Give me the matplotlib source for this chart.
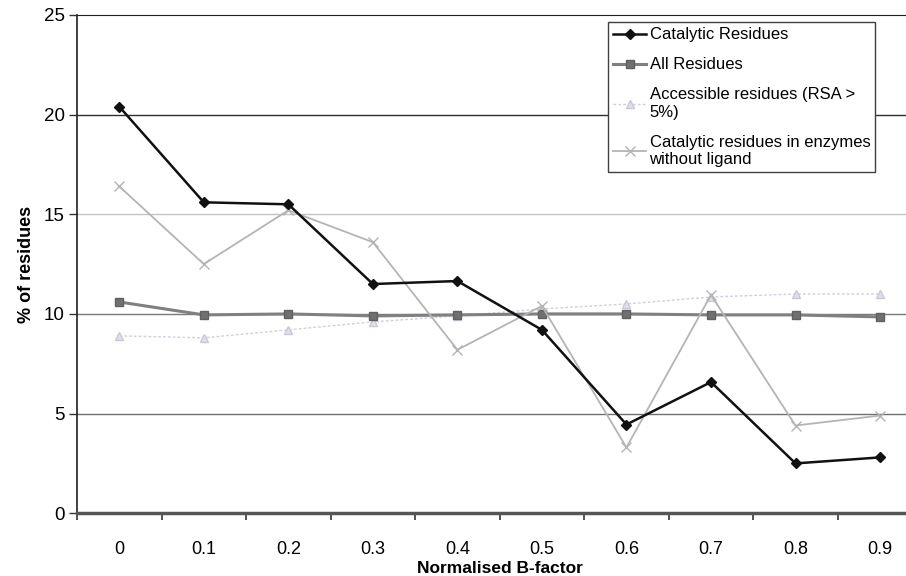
import matplotlib.pyplot as plt

# data
b_factor = ["0", "0.1", "0.2", "0.3", "0.4", "0.5", "0.6", "0.7", "0.8", "0.9"]
catalytic = [20.4, 15.6, 15.5, 11.5, 11.65, 9.2, 4.45, 6.58, 2.5, 2.8]
all_residues = [10.6, 9.95, 10.0, 9.9, 9.95, 10.0, 10.0, 9.95, 9.95, 9.85]
accessible = [8.9, 8.8, 9.2, 9.6, 9.9, 10.25, 10.5, 10.85, 11.0, 11.0]
no_ligand = [16.4, 12.5, 15.2, 13.6, 8.2, 10.4, 3.3, 10.95, 4.4, 4.9]

plt.rcParams["font.family"] = ["Liberation Sans", "DejaVu Sans"]

fig = plt.figure(figsize=(9.06, 5.76), dpi=100)
ax = fig.add_axes([0.085, 0.109, 0.933, 0.865])

x = list(range(len(b_factor)))

# gridlines (shades vary as in the reference)
for yv, col in [(5, "#707070"), (10, "#7a7a7a"), (15, "#c4c4c4"), (20, "#303030")]:
    ax.axhline(yv, color=col, lw=1.0, zorder=1)

ax.plot(x, all_residues, color="#808080", lw=2.2, marker="s", ms=5.5,
        markerfacecolor="#707070", markeredgecolor="#606060",
        label="All Residues", zorder=3)
ax.plot(x, accessible, color="#cfcfe0", lw=1.0, ls=(0, (2, 1.5)), marker="^", ms=5.5,
        markerfacecolor="#e0e0e8", markeredgecolor="#c8c8d8",
        label="Accessible residues (RSA >\n5%)", zorder=2)
ax.plot(x, no_ligand, color="#b4b4b4", lw=1.3, marker="x", ms=6.5, mew=1.0,
        label="Catalytic residues in enzymes\nwithout ligand", zorder=3)
ax.plot(x, catalytic, color="#111111", lw=1.8, marker="D", ms=5,
        label="Catalytic Residues", zorder=4)

ax.set_xlim(-0.5, len(b_factor) - 0.5)
ax.set_ylim(0, 25)
ax.set_yticks([0, 5, 10, 15, 20, 25])
ax.set_xticks(x)
ax.set_xticklabels(b_factor)
ax.set_xticks([i + 0.5 for i in range(-1, len(b_factor))], minor=True)
ax.tick_params(axis="x", which="major", length=0, pad=20, labelsize=13)
ax.tick_params(axis="x", which="minor", length=5, width=1.2, direction="out", color="#333333")
ax.tick_params(axis="y", length=6, width=1.0, direction="out", labelsize=13.5, pad=3, color="#333333")

ax.spines["right"].set_visible(False)
ax.spines["top"].set_color("#202020")
ax.spines["left"].set_color("#202020")
ax.spines["left"].set_linewidth(1.2)
ax.spines["bottom"].set_color("#555555")
ax.spines["bottom"].set_linewidth(2.5)

ax.set_xlabel("Normalised B-factor", fontsize=12.5, fontweight="bold", labelpad=2)
ax.set_ylabel("% of residues", fontsize=13, fontweight="bold", labelpad=6)

handles, labels = ax.get_legend_handles_labels()
order = [3, 0, 1, 2]
leg = ax.legend([handles[i] for i in order], [labels[i] for i in order],
                loc="upper left", bbox_to_anchor=(0.628, 0.985),
                fontsize=12, frameon=True, fancybox=False,
                handlelength=2.0, handletextpad=0.2, labelspacing=0.9,
                borderpad=0.3, borderaxespad=0)
leg.get_frame().set_edgecolor("#404040")
leg.get_frame().set_linewidth(1.0)
leg.get_frame().set_alpha(1)

plt.savefig("out.png", dpi=100)
